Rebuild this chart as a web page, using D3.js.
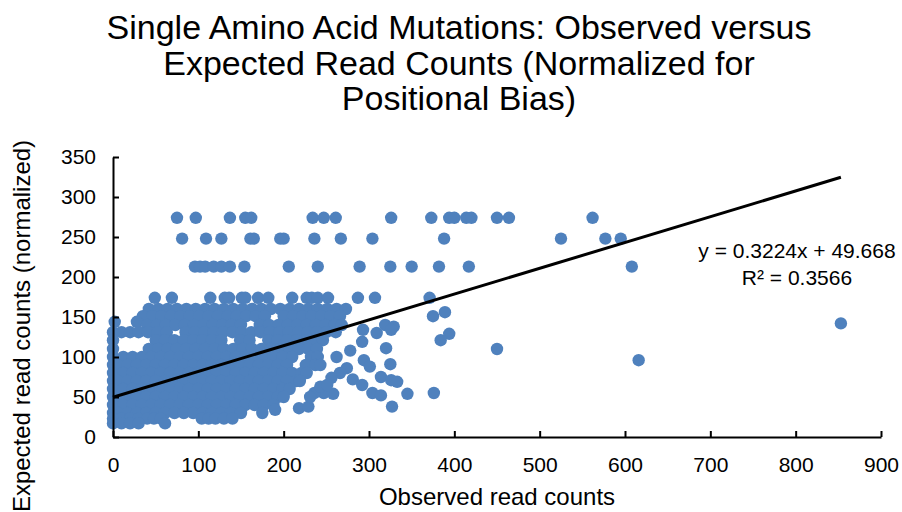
<!DOCTYPE html>
<html>
<head>
<meta charset="utf-8">
<script src="https://cdn.jsdelivr.net/npm/d3@7"></script>
<style>
  body { margin: 0; background: #fff; }
  text { font-family: "Liberation Sans", Arial, sans-serif; fill: #000; }
</style>
</head>
<body>
<script>
// Single amino acid mutations, observed vs expected read counts
//
const titleLines = [
  'Single Amino Acid Mutations: Observed versus',
  'Expected Read Counts (Normalized for',
  'Positional Bias)'
]
const xTicks = [0, 100, 200, 300, 400, 500, 600, 700, 800, 900]
const yTicks = [0, 50, 100, 150, 200, 250, 300, 350]

// Trendline from the chart label
const slope = 0.3224
const intercept = 49.668
const rSquared = 0.3566
const maxObserved = 853

// Expected counts that show up as flat bands (observed counts per band)
const bandExpected = [274, 248, 213, 174]
const bandObserved = [
  [75, 97, 137, 155, 162, 234, 247, 261, 326, 373, 394, 400, 414, 420, 450, 464, 562],
  [81, 109, 127, 161, 165, 196, 200, 236, 267, 304, 388, 525, 577, 595],
  [96, 102, 108, 118, 127, 137, 154, 206, 240, 289, 325, 350, 382, 417, 608],
  [49, 69, 114, 131, 136, 151, 155, 170, 182, 210, 227, 233, 240, 252, 287, 307, 371]
]

// Dense low-count region, one list of observed counts per expected level
const blobExpected = [160, 151, 144, 140, 131, 121, 110, 100, 90, 80, 70, 60, 50, 40, 30, 23, 17]
const blobObserved = [
  [42, 53, 64, 75, 86, 97, 108, 119, 130, 141, 152, 163, 174, 185, 196, 207, 218, 229, 240, 251, 262, 273],
  [35, 46, 57, 68, 79, 90, 101, 112, 123, 134, 145, 156, 167, 178, 200, 211, 222, 233, 244, 255, 266],
  [2, 28],
  [40, 51, 62, 73, 84, 95, 106, 117, 128, 139, 150, 172, 183, 194, 205, 216, 227, 238, 249, 260, 268],
  [0, 10, 20, 30, 41, 52, 63, 85, 96, 107, 118, 129, 140, 151, 162, 173, 184, 195, 206, 217, 228, 239, 250, 261],
  [0, 50, 61, 72, 83, 94, 105, 116, 127, 149, 160, 182, 193, 204, 215, 226, 237, 246],
  [0, 42, 53, 64, 75, 86, 97, 108, 119, 130, 141, 152, 163, 174, 185, 196, 207, 218, 229, 239],
  [0, 12, 23, 34, 45, 56, 67, 78, 89, 100, 111, 122, 133, 144, 155, 166, 177, 188, 199, 210, 232, 240],
  [0, 6, 17, 28, 39, 50, 61, 72, 83, 94, 105, 116, 127, 138, 149, 160, 171, 182, 193, 204, 226, 237, 243],
  [0, 12, 23, 34, 45, 56, 67, 78, 89, 100, 111, 122, 133, 144, 155, 166, 177, 188, 199, 210, 221, 227],
  [0, 6, 17, 28, 39, 50, 61, 72, 83, 94, 105, 116, 127, 138, 149, 160, 171, 182, 193, 204, 215, 219],
  [0, 12, 23, 34, 45, 56, 67, 78, 89, 100, 111, 122, 133, 144, 155, 166, 177, 188, 199, 207],
  [0, 6, 17, 28, 39, 50, 61, 72, 83, 94, 105, 116, 127, 138, 149, 160, 171, 182, 193, 200],
  [0, 12, 23, 34, 45, 56, 67, 78, 89, 100, 111, 122, 133, 144, 155, 166, 177, 188],
  [0, 6, 17, 28, 39, 50, 61, 72, 83, 94, 105, 116, 127, 138, 150],
  [0, 10, 20, 30, 40, 48, 56, 104, 112, 120, 130, 140],
  [0, 10, 20, 30, 61]
]

// Loose points around the edge of the dense region and the outliers
const looseObserved = [319, 329, 326, 309, 293, 292, 278, 262, 294, 301, 320, 325, 314, 326, 333, 281, 292,
  304, 314, 345, 327, 274, 266, 256, 258, 247, 236, 243, 251, 218, 229, 175, 190, 231,
  375, 389, 394, 384, 450, 376, 616, 853]
const looseExpected = [140, 138, 134, 130, 134, 119, 108, 100, 96, 88, 111, 91, 75, 71, 69, 72, 65,
  55, 52, 54, 38, 86, 80, 74, 54, 55, 55, 63, 65, 36, 38, 30, 34, 50,
  151, 156, 129, 121, 110, 55, 96, 142]

const WIDTH = 902
const HEIGHT = 512
const DOT = '#4f81bd'

const svg = d3.select('body')
  .append('svg')
  .attr('width', WIDTH)
  .attr('height', HEIGHT)

const x = d3.scaleLinear().domain([0, 900]).range([113, 881])
const y = d3.scaleLinear().domain([0, 350]).range([437, 157])

// Collect every point into [observed, expected] pairs
let points = []
bandExpected.forEach((e, i) => {
  bandObserved[i].forEach(o => points.push([o, e]))
})
blobExpected.forEach((e, i) => {
  blobObserved[i].forEach(o => points.push([o, e]))
})
looseObserved.forEach((o, i) => points.push([o, looseExpected[i]]))

svg.append('g')
  .selectAll('circle')
  .data(points)
  .join('circle')
  .attr('cx', d => x(d[0]))
  .attr('cy', d => y(d[1]))
  .attr('r', 6.2)
  .attr('fill', DOT)

// Axes, ticks point inward like the original
const xAxis = svg.append('g')
  .attr('transform', `translate(0,${y(0)})`)
  .call(d3.axisBottom(x).tickValues(xTicks).tickSizeInner(-6).tickSizeOuter(0).tickPadding(20))
const yAxis = svg.append('g')
  .attr('transform', `translate(${x(0)},0)`)
  .call(d3.axisLeft(y).tickValues(yTicks).tickSizeInner(-6).tickSizeOuter(0).tickPadding(17))

;[xAxis, yAxis].forEach(g => {
  g.select('.domain').attr('stroke', '#000').attr('stroke-width', 2)
  g.selectAll('.tick line').attr('stroke', '#000').attr('stroke-width', 2)
  g.selectAll('.tick text')
    .style('font-family', '"Liberation Sans", Arial, sans-serif')
    .style('font-size', '21px')
    .attr('fill', '#000')
})

// Trendline
svg.append('line')
  .attr('x1', x(0))
  .attr('y1', y(intercept))
  .attr('x2', x(maxObserved))
  .attr('y2', y(slope * maxObserved + intercept))
  .attr('stroke', '#000')
  .attr('stroke-width', 3)

svg.append('text')
  .attr('x', 797)
  .attr('y', 258)
  .attr('text-anchor', 'middle')
  .style('font-size', '21px')
  .text(`y = ${slope}x + ${intercept}`)
svg.append('text')
  .attr('x', 797)
  .attr('y', 285)
  .attr('text-anchor', 'middle')
  .style('font-size', '21px')
  .text(`R² = ${rSquared}`)

// Title
const title = svg.append('text')
  .attr('text-anchor', 'middle')
  .style('font-size', '34px')
titleLines.forEach((line, i) => {
  title.append('tspan')
    .attr('x', 459)
    .attr('y', 39 + i * 35.5)
    .text(line)
})

// Axis titles
svg.append('text')
  .attr('x', 497)
  .attr('y', 505)
  .attr('text-anchor', 'middle')
  .style('font-size', '24px')
  .text('Observed read counts')

svg.append('text')
  .attr('transform', 'translate(30,326) rotate(-90)')
  .attr('text-anchor', 'middle')
  .style('font-size', '24px')
  .text('Expected read counts (normalized)')
</script>
</body>
</html>
